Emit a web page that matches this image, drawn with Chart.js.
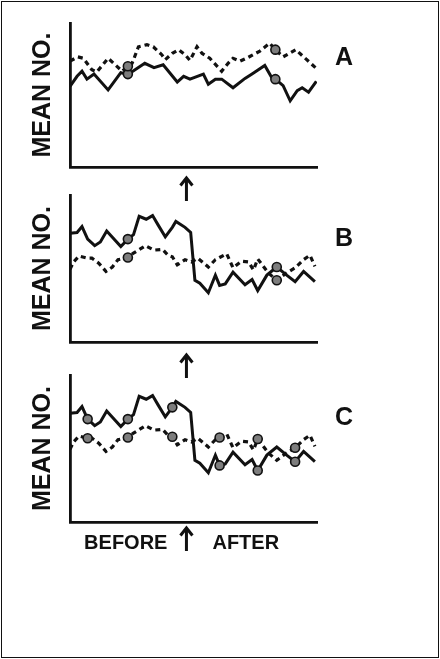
<!DOCTYPE html>
<html>
<head>
<meta charset="utf-8">
<script src="https://cdn.jsdelivr.net/npm/chart.js@4.4.1/dist/chart.umd.min.js"></script>
<style>
  html, body { margin: 0; padding: 0; background: #fff; }
  #page { position: relative; width: 440px; height: 659px; overflow: hidden; }
  #frame { position: absolute; left: 1px; top: 1px; width: 438px; height: 657px;
           box-sizing: border-box; border: 1.5px solid #111; }
  canvas { position: absolute; left: 0; }
</style>
</head>
<body>
<div id="page">
  <div id="frame"></div>
  <canvas id="chartA" width="440" height="205" style="top:0px"></canvas>
  <canvas id="chartB" width="440" height="205" style="top:180px"></canvas>
  <canvas id="chartC" width="440" height="200" style="top:360px"></canvas>
</div>
<script>
// Weeks of observation, intervention marked by the arrow
const interventionWeek = 16.5;

// Panel A
const aSolidX = [0, 1.0, 1.7, 2.4, 3.4, 5.4, 7.2, 8.2, 8.9, 10.6, 11.9, 13.2, 15.2, 16.1, 17.0, 18.9, 19.6, 20.6, 21.5, 23.1, 24.8, 25.9, 27.6, 28.6, 29.1, 30.2, 31.2, 32.2, 32.9, 33.8, 34.9];
const aSolidY = [11.2, 12.6, 13.3, 12.2, 12.9, 10.7, 13.1, 12.9, 13.3, 14.4, 13.8, 14.2, 11.8, 12.6, 12.2, 12.9, 11.5, 12.2, 12.2, 11.0, 12.3, 13.0, 14.1, 12.4, 12.2, 11.3, 9.2, 10.6, 11.0, 10.4, 11.9];
const aDashX = [0, 1.1, 1.9, 3.1, 3.8, 5.4, 6.4, 7.4, 8.2, 8.8, 9.7, 10.9, 11.8, 13.0, 13.5, 14.5, 15.4, 16.3, 17.0, 18.0, 18.7, 19.8, 21.5, 22.4, 23.1, 24.1, 25.2, 26.9, 28.3, 29.1, 30.2, 32.0, 33.1, 34.9];
const aDashY = [14.7, 15.3, 15.1, 13.5, 13.2, 15.1, 14.2, 13.3, 14.0, 14.4, 16.7, 17.0, 16.7, 15.6, 14.9, 15.8, 16.3, 15.6, 14.8, 16.7, 15.8, 15.1, 13.3, 14.4, 15.1, 14.7, 15.2, 16.1, 17.2, 16.3, 15.3, 16.3, 15.3, 13.7];
const aMarks = [8.2, 29.1];

// Panels B and C (same records)
const bSolidX = [0, 1.0, 1.7, 2.5, 3.5, 4.3, 5.2, 7.2, 8.2, 9.0, 9.8, 10.8, 11.7, 12.5, 13.5, 14.5, 15.0, 16.3, 17.1, 17.7, 18.4, 19.6, 20.6, 21.2, 22.0, 23.1, 24.8, 25.8, 26.6, 27.9, 29.3, 30.7, 31.9, 33.1, 34.7];
const bSolidY = [14.8, 14.9, 15.7, 14.0, 13.1, 13.6, 15.1, 13.0, 14.0, 14.6, 17.1, 16.7, 17.2, 15.9, 14.3, 15.6, 16.4, 15.6, 14.9, 8.4, 8.0, 6.7, 9.1, 7.7, 7.9, 9.5, 7.8, 8.5, 7.0, 9.1, 10.2, 9.1, 8.2, 9.6, 8.2];
const bDashX = [0, 0.5, 1.3, 2.5, 3.1, 4.1, 5.1, 6.0, 6.8, 8.2, 9.0, 10.7, 11.9, 13.1, 13.9, 14.5, 15.2, 16.3, 17.2, 18.1, 19.6, 20.6, 21.2, 22.2, 23.1, 24.3, 25.3, 26.0, 26.6, 28.1, 29.3, 30.7, 31.9, 33.1, 34.0, 34.7];
const bDashY = [9.9, 10.9, 11.7, 11.4, 11.4, 10.7, 9.6, 10.2, 11.2, 11.5, 12.1, 13.1, 12.5, 12.6, 11.8, 11.6, 10.5, 11.2, 10.9, 11.4, 10.2, 11.2, 11.5, 12.0, 10.1, 11.0, 10.9, 9.8, 11.3, 9.4, 8.4, 9.4, 10.1, 11.2, 11.8, 10.3];
const bMarks = [8.2, 29.3];
const cMarks = [2.5, 8.2, 14.5, 21.2, 26.6, 31.9];

const INK = '#111';
const FONT = '"Liberation Sans", Arial, Helvetica, sans-serif';

function pts(xs, ys) {
    return xs.map((x, i) => ({ x: x, y: ys[i] }));
}

// letters, arrows and the before/after caption
const decor = {
    id: 'decor',
    afterDraw(chart, args, opts) {
        const { ctx, chartArea, scales } = chart;
        const ax = scales.x.getPixelForValue(interventionWeek);
        ctx.save();
        ctx.fillStyle = INK;
        ctx.strokeStyle = INK;
        ctx.textBaseline = 'middle';
        ctx.textAlign = 'center';
        ctx.font = 'bold 25px ' + FONT;
        ctx.fillText(opts.letter, chartArea.right + 27, chartArea.top + opts.letterDy);

        const y0 = chartArea.bottom + opts.arrowGap;
        const y1 = y0 + 24;
        ctx.lineWidth = 3;
        ctx.lineJoin = 'miter';
        ctx.beginPath();
        ctx.moveTo(ax, y1);
        ctx.lineTo(ax, y0 + 1);
        ctx.stroke();
        ctx.beginPath();
        ctx.moveTo(ax - 6, y0 + 8.5);
        ctx.lineTo(ax, y0 + 1);
        ctx.lineTo(ax + 6, y0 + 8.5);
        ctx.stroke();

        if (opts.caption) {
            ctx.font = 'bold 20px ' + FONT;
            const cy = chartArea.bottom + 21;
            ctx.textAlign = 'right';
            ctx.fillText('BEFORE', ax - 19, cy);
            ctx.textAlign = 'left';
            ctx.fillText('AFTER', ax + 26, cy);
        }
        ctx.restore();
    }
};

function makePanel(id, solidX, solidY, dashX, dashY, marks, pad, decorOpts) {
    const markRadius = ctx => (ctx.raw && marks.includes(ctx.raw.x)) ? 4.5 : 0;
    const lineBase = {
        borderColor: INK,
        tension: 0,
        pointRadius: markRadius,
        pointHoverRadius: markRadius,
        pointBackgroundColor: '#7d7d7d',
        pointBorderColor: INK,
        pointBorderWidth: 1.6
    };
    return new Chart(document.getElementById(id), {
        type: 'line',
        data: {
            datasets: [
                Object.assign({ data: pts(dashX, dashY), borderWidth: 3.2, borderDash: [5, 4] }, lineBase),
                Object.assign({ data: pts(solidX, solidY), borderWidth: 3 }, lineBase)
            ]
        },
        options: {
            responsive: false,
            animation: false,
            devicePixelRatio: 1,
            layout: { padding: pad },
            plugins: {
                legend: { display: false },
                tooltip: { enabled: false },
                decor: decorOpts
            },
            scales: {
                x: {
                    type: 'linear',
                    min: 0,
                    max: 35,
                    grid: { display: false, drawTicks: false },
                    ticks: { display: false },
                    border: { display: true, color: INK, width: 2.8 }
                },
                y: {
                    min: 0,
                    max: 20,
                    grid: { display: false, drawTicks: false },
                    ticks: { display: false },
                    border: { display: true, color: INK, width: 2.8 },
                    title: {
                        display: true,
                        text: 'MEAN NO.',
                        color: INK,
                        font: { family: FONT, size: 25, weight: 'bold' },
                        padding: { top: 0, bottom: 11.5 }
                    }
                }
            }
        },
        plugins: [decor]
    });
}

makePanel('chartA', aSolidX, aSolidY, aDashX, aDashY, aMarks,
    { left: 28.5, right: 123, top: 23, bottom: 38 },
    { letter: 'A', letterDy: 35, arrowGap: 10 });
makePanel('chartB', bSolidX, bSolidY, bDashX, bDashY, bMarks,
    { left: 28.5, right: 123, top: 15, bottom: 43 },
    { letter: 'B', letterDy: 44, arrowGap: 12 });
makePanel('chartC', bSolidX, bSolidY, bDashX, bDashY, cMarks,
    { left: 28.5, right: 123, top: 15, bottom: 38 },
    { letter: 'C', letterDy: 43, arrowGap: 5, caption: true });
</script>
</body>
</html>
